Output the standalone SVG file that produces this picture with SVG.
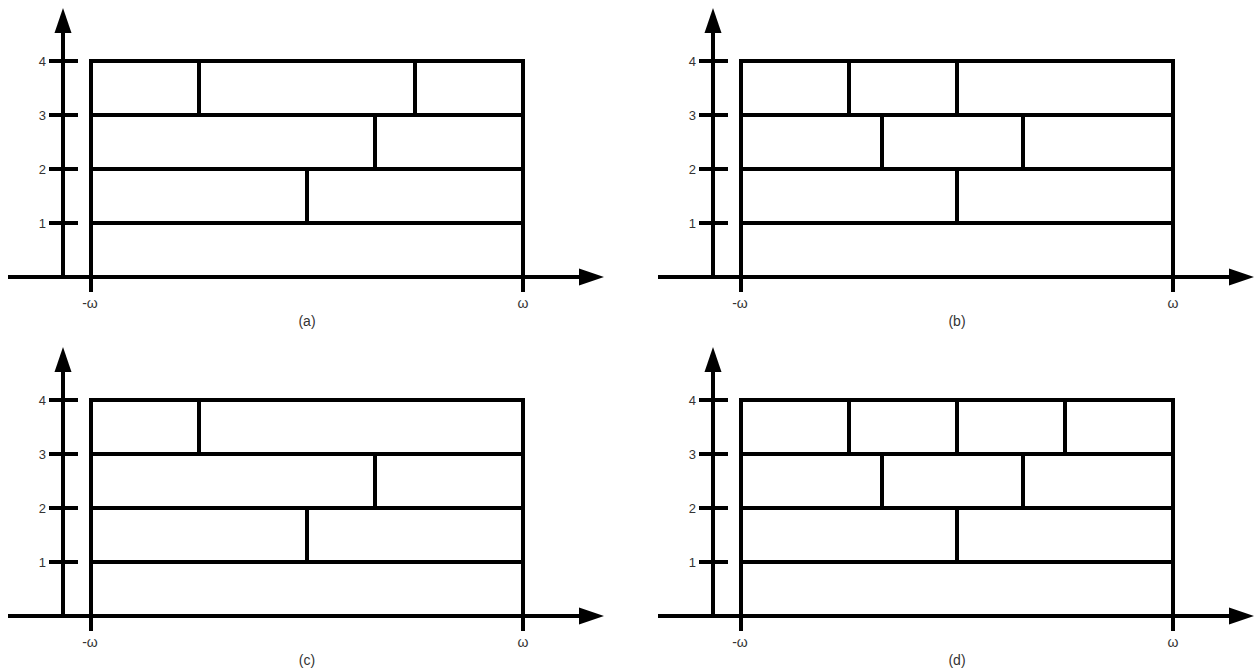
<svg xmlns="http://www.w3.org/2000/svg" width="1258" height="668" viewBox="0 0 1258 668">
<defs>
<style>
.ax{stroke:#000;stroke-width:4;fill:none}
.ln{stroke:#000;stroke-width:4;fill:none;stroke-linecap:square}
.hd{fill:#000;stroke:none}
text{font-family:"Liberation Sans",Arial,sans-serif;font-size:14px;fill:#333}
.tk{text-anchor:end;font-size:13px}
.md{text-anchor:middle}
</style>
<g id="axes">
<line class="ax" x1="63" y1="30" x2="63" y2="279"/>
<path class="hd" d="M63,8 L71.5,33 L54.5,33 Z"/>
<line class="ax" x1="8" y1="277" x2="582" y2="277"/>
<path class="hd" d="M604,277 L579,268.5 L579,285.5 Z"/>
<line class="ax" x1="49" y1="61" x2="78" y2="61"/>
<line class="ax" x1="49" y1="115" x2="78" y2="115"/>
<line class="ax" x1="49" y1="169" x2="78" y2="169"/>
<line class="ax" x1="49" y1="223" x2="78" y2="223"/>
<text class="tk" x="46" y="66">4</text>
<text class="tk" x="46" y="120">3</text>
<text class="tk" x="46" y="174">2</text>
<text class="tk" x="46" y="228">1</text>
<line class="ax" x1="91" y1="59" x2="91" y2="292"/>
<line class="ax" x1="523" y1="59" x2="523" y2="292"/>
<text class="md" x="90" y="308">-ω</text>
<text class="md" x="523" y="308">ω</text>
<line class="ln" x1="91" y1="61" x2="523" y2="61"/>
<line class="ln" x1="91" y1="115" x2="523" y2="115"/>
<line class="ln" x1="91" y1="169" x2="523" y2="169"/>
<line class="ln" x1="91" y1="223" x2="523" y2="223"/>
</g>
</defs>

<g id="panel-a">
<use href="#axes"/>
<g id="a-cells">
<line class="ln" x1="199" y1="61" x2="199" y2="115"/>
<line class="ln" x1="415" y1="61" x2="415" y2="115"/>
<line class="ln" x1="375" y1="115" x2="375" y2="169"/>
<line class="ln" x1="307" y1="169" x2="307" y2="223"/>
</g>
<text class="md" x="307" y="326">(a)</text>
</g>

<g id="panel-b">
<use href="#axes" x="650" y="0"/>
<g id="b-cells">
<line class="ln" x1="849" y1="61" x2="849" y2="115"/>
<line class="ln" x1="957" y1="61" x2="957" y2="115"/>
<line class="ln" x1="882" y1="115" x2="882" y2="169"/>
<line class="ln" x1="1023" y1="115" x2="1023" y2="169"/>
<line class="ln" x1="957" y1="169" x2="957" y2="223"/>
</g>
<text class="md" x="957" y="326">(b)</text>
</g>

<g id="panel-c">
<use href="#axes" x="0" y="339"/>
<g id="c-cells">
<line class="ln" x1="199" y1="400" x2="199" y2="454"/>
<line class="ln" x1="375" y1="454" x2="375" y2="508"/>
<line class="ln" x1="307" y1="508" x2="307" y2="562"/>
</g>
<text class="md" x="307" y="665">(c)</text>
</g>

<g id="panel-d">
<use href="#axes" x="650" y="339"/>
<g id="d-cells">
<line class="ln" x1="849" y1="400" x2="849" y2="454"/>
<line class="ln" x1="957" y1="400" x2="957" y2="454"/>
<line class="ln" x1="1065" y1="400" x2="1065" y2="454"/>
<line class="ln" x1="882" y1="454" x2="882" y2="508"/>
<line class="ln" x1="1023" y1="454" x2="1023" y2="508"/>
<line class="ln" x1="957" y1="508" x2="957" y2="562"/>
</g>
<text class="md" x="957" y="665">(d)</text>
</g>
</svg>
